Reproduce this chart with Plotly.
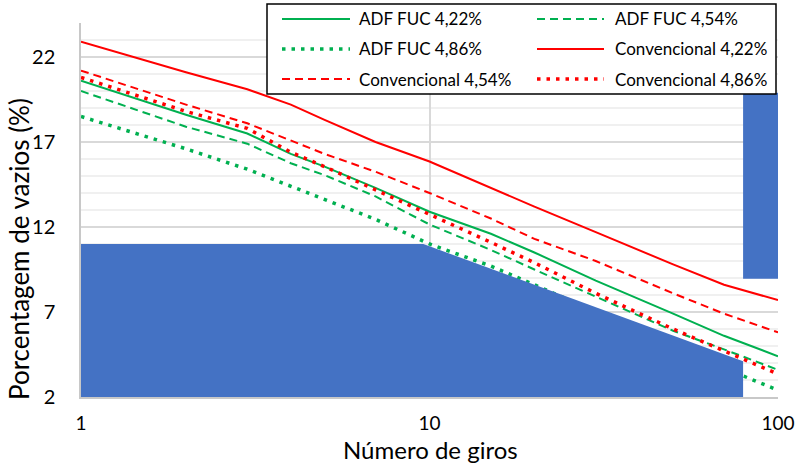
import plotly.graph_objects as go

# Gyration counts (log axis) and air-void content (%) per mixture
giros = [1, 2, 3, 4, 5, 7, 10, 15, 20, 30, 50, 70, 100]

adf_422 = [20.6, 18.6, 17.5, 16.3, 15.55, 14.3, 12.9, 11.6, 10.5, 8.85, 6.9, 5.6, 4.4]
adf_454 = [20.0, 17.9, 16.9, 15.75, 15.05, 13.8, 12.15, 10.65, 9.5, 7.9, 5.9, 4.8, 3.6]
adf_486 = [18.5, 16.6, 15.4, 14.4, 13.6, 12.45, 11.0, 9.7, 8.6, 7.0, 5.0, 3.7, 2.4]
conv_422 = [22.9, 21.1, 20.1, 19.2, 18.3, 17.0, 15.85, 14.3, 13.2, 11.7, 9.8, 8.6, 7.7]
conv_454 = [21.2, 19.2, 18.1, 17.1, 16.3, 15.25, 14.0, 12.5, 11.3, 10.0, 8.1, 6.9, 5.8]
conv_486 = [20.8, 18.8, 17.8, 16.4, 15.55, 14.2, 12.75, 11.1, 9.9, 8.1, 6.0, 4.7, 3.35]

series_names = ["ADF FUC 4,22%", "ADF FUC 4,54%", "ADF FUC 4,86%",
                "Convencional 4,22%", "Convencional 4,54%", "Convencional 4,86%"]
series_values = [adf_422, adf_454, adf_486, conv_422, conv_454, conv_486]

y_ticks = [2, 7, 12, 17, 22]
x_ticks = [1, 10, 100]

# Solid blue cover blocks (data coordinates)
cover_poly_x = [1, 9.6, 79.4, 79.4, 1, 1]
cover_poly_y = [11, 11, 4.1, 2, 2, 11]
cover_rect_x = [79.4, 100, 100, 79.4, 79.4]
cover_rect_y = [8.95, 8.95, 19.9, 19.9, 8.95]

GREEN = "#00B050"
RED = "#FF0000"
BLUE = "#4472C4"
FONT = "Lato"

styles = [
    dict(color=GREEN, width=2, dash="solid"),
    dict(color=GREEN, width=2, dash="8px,5px"),
    dict(color=GREEN, width=3.5, dash="3.5px,6px"),
    dict(color=RED, width=2, dash="solid"),
    dict(color=RED, width=2, dash="8px,5px"),
    dict(color=RED, width=3.5, dash="3.5px,6px"),
]

fig = go.Figure()
for name, vals, st in zip(series_names, series_values, styles):
    fig.add_trace(go.Scatter(x=giros, y=vals, mode="lines", name=name,
                             line=st, showlegend=False))

for cx, cy in ((cover_poly_x, cover_poly_y), (cover_rect_x, cover_rect_y)):
    fig.add_trace(go.Scatter(x=cx, y=cy, mode="lines", fill="toself",
                             fillcolor=BLUE, line=dict(width=0, color=BLUE),
                             showlegend=False, hoverinfo="skip"))

# Plot-area geometry in pixels, used to place the boxed legend
L, R, T, B = 81, 778, 23, 397
W, H = R - L, B - T


def fx(p):
    return (p - L) / W


def fy(p):
    return (B - p) / H


shapes = [dict(type="rect", xref="paper", yref="paper",
               x0=fx(267), x1=fx(776), y0=fy(94), y1=fy(4),
               line=dict(color="black", width=1.5), fillcolor="white",
               layer="above")]
annotations = []
rows = [19, 49, 79]
cols = [(282, 350, 357), (537, 604, 613)]
for i, (name, st) in enumerate(zip(series_names, styles)):
    r, c = divmod(i, 2)
    x0, x1, xt = cols[c]
    yy = fy(rows[r])
    shapes.append(dict(type="line", xref="paper", yref="paper",
                       x0=fx(x0), x1=fx(x1), y0=yy, y1=yy, layer="above",
                       line=dict(color=st["color"], width=st["width"], dash=st["dash"])))
    annotations.append(dict(text=name, xref="paper", yref="paper",
                            x=fx(xt), y=yy, xanchor="left", yanchor="middle",
                            showarrow=False, font=dict(family=FONT, size=17, color="black")))

annotations.append(dict(text="Porcentagem de vazios (%)", xref="paper", yref="paper",
                        x=fx(19), y=fy(249), textangle=-90, showarrow=False,
                        xanchor="center", yanchor="middle",
                        font=dict(family=FONT, size=26, color="black")))
annotations.append(dict(text="Número de giros", xref="paper", yref="paper",
                        x=fx(430), y=fy(450), showarrow=False,
                        xanchor="center", yanchor="middle",
                        font=dict(family=FONT, size=24, color="black")))

fig.update_layout(
    width=798, height=464,
    margin=dict(l=L, r=798 - R, t=T, b=464 - B, autoexpand=False),
    paper_bgcolor="white", plot_bgcolor="white",
    font=dict(family=FONT, color="black"),
    shapes=shapes, annotations=annotations,
    showlegend=False,
)
fig.update_xaxes(type="log", range=[0, 2], tickvals=x_ticks,
                 ticktext=[str(v) for v in x_ticks],
                 showgrid=True, gridcolor="#D9D9D9", gridwidth=1.5,
                 showline=True, linecolor="#C8C8C8", linewidth=1.5,
                 ticks="", ticklabelstandoff=8, automargin=False,
                 tickfont=dict(family=FONT, size=19, color="black"),
                 zeroline=False)
fig.update_yaxes(range=[2, 24], tickvals=y_ticks,
                 showgrid=True, gridcolor="#D9D9D9", gridwidth=1.5,
                 minor=dict(dtick=1, tick0=2, showgrid=True, gridcolor="#F0F0F0", gridwidth=1.5),
                 showline=True, linecolor="#C8C8C8", linewidth=1.5,
                 ticks="", ticklabelstandoff=20, automargin=False,
                 tickfont=dict(family=FONT, size=20, color="black"),
                 zeroline=False)

fig.write_html("out.html")
